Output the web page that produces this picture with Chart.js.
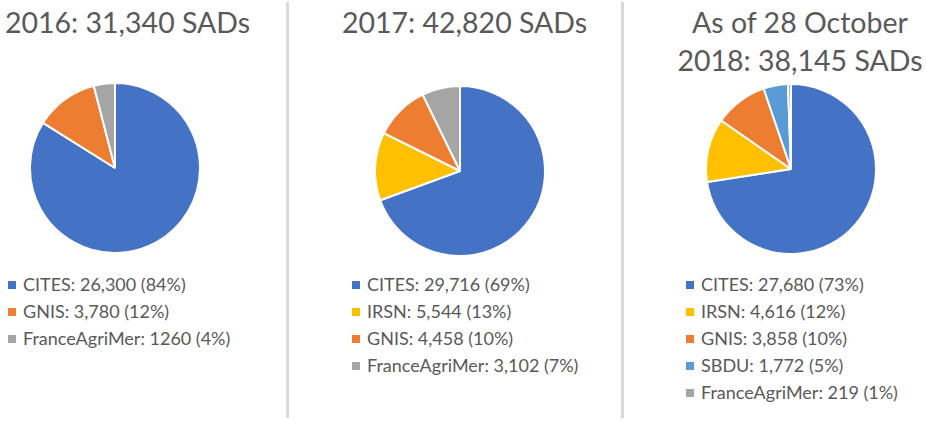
<!DOCTYPE html>
<html>
<head>
<meta charset="utf-8">
<script src="https://cdn.jsdelivr.net/npm/chart.js@4.4.1/dist/chart.umd.min.js"></script>
<style>
  html, body { margin: 0; padding: 0; background: #fff; }
  body { width: 926px; height: 421px; position: relative; overflow: hidden; font-family: Lato, "Open Sans", sans-serif; color: #595959; }
  .title { position: absolute; font-size: 28.5px; line-height: 38px; white-space: nowrap; }
  .pie { position: absolute; width: 172px; height: 172px; }
  .legend { position: absolute; font-size: 18px; line-height: 27px; white-space: nowrap; }
  .legend .sw { display: inline-block; width: 8px; height: 8px; margin-right: 7px; vertical-align: 2px; }
  .divider { position: absolute; top: 2px; width: 3px; height: 416px; background: #d9d9d9; }
</style>
</head>
<body>
<div class="divider" style="left:286px"></div>
<div class="divider" style="left:621px"></div>

<div class="title" id="title1" style="left:5px; top:3px"></div>
<div class="title" id="title2" style="left:342px; top:3px"></div>
<div class="title" id="title3" style="left:655px; top:3px; width:290px; text-align:center"></div>

<canvas class="pie" id="pie1" width="172" height="172" style="left:29px; top:82px"></canvas>
<canvas class="pie" id="pie2" width="172" height="172" style="left:374px; top:85px"></canvas>
<canvas class="pie" id="pie3" width="172" height="172" style="left:705px; top:83px"></canvas>

<div class="legend" id="legend1" style="left:8px; top:271px"></div>
<div class="legend" id="legend2" style="left:352px; top:271px"></div>
<div class="legend" id="legend3" style="left:686px; top:271px"></div>

<script>
// 2016
const titles2016 = ['2016: 31,340 SADs'];
const labels2016 = ['CITES', 'GNIS', 'FranceAgriMer'];
const values2016 = [26300, 3780, 1260];
const legend2016 = ['CITES: 26,300 (84%)', 'GNIS: 3,780 (12%)', 'FranceAgriMer: 1260 (4%)'];

// 2017
const titles2017 = ['2017: 42,820 SADs'];
const labels2017 = ['CITES', 'IRSN', 'GNIS', 'FranceAgriMer'];
const values2017 = [29716, 5544, 4458, 3102];
const legend2017 = ['CITES: 29,716 (69%)', 'IRSN: 5,544 (13%)', 'GNIS: 4,458 (10%)', 'FranceAgriMer: 3,102 (7%)'];

// 2018 (as of 28 October)
const titles2018 = ['As of 28 October', '2018: 38,145 SADs'];
const labels2018 = ['CITES', 'IRSN', 'GNIS', 'SBDU', 'FranceAgriMer'];
const values2018 = [27680, 4616, 3858, 1772, 219];
const legend2018 = ['CITES: 27,680 (73%)', 'IRSN: 4,616 (12%)', 'GNIS: 3,858 (10%)', 'SBDU: 1,772 (5%)', 'FranceAgriMer: 219 (1%)'];

const colors = {
    CITES: '#4472c4',
    IRSN: '#ffc000',
    GNIS: '#ed7d31',
    SBDU: '#5b9bd5',
    FranceAgriMer: '#a5a5a5'
};

function createPie(canvasId, labels, values) {
    const ctx = document.getElementById(canvasId).getContext('2d');
    new Chart(ctx, {
        type: 'pie',
        data: {
            labels: labels,
            datasets: [{
                data: values,
                backgroundColor: labels.map(l => colors[l]),
                borderColor: '#ffffff',
                borderWidth: 2
            }]
        },
        options: {
            responsive: false,
            animation: false,
            layout: { padding: 0 },
            plugins: {
                legend: { display: false },
                tooltip: { enabled: false }
            }
        }
    });
}

function fillTitle(id, lines) {
    document.getElementById(id).innerHTML = lines.join('<br>');
}

function fillLegend(id, labels, texts) {
    const el = document.getElementById(id);
    el.innerHTML = texts.map((t, i) =>
        `<div><span class="sw" style="background:${colors[labels[i]]}"></span>${t}</div>`
    ).join('');
}

fillTitle('title1', titles2016);
fillTitle('title2', titles2017);
fillTitle('title3', titles2018);

createPie('pie1', labels2016, values2016);
createPie('pie2', labels2017, values2017);
createPie('pie3', labels2018, values2018);

fillLegend('legend1', labels2016, legend2016);
fillLegend('legend2', labels2017, legend2017);
fillLegend('legend3', labels2018, legend2018);
</script>
</body>
</html>
